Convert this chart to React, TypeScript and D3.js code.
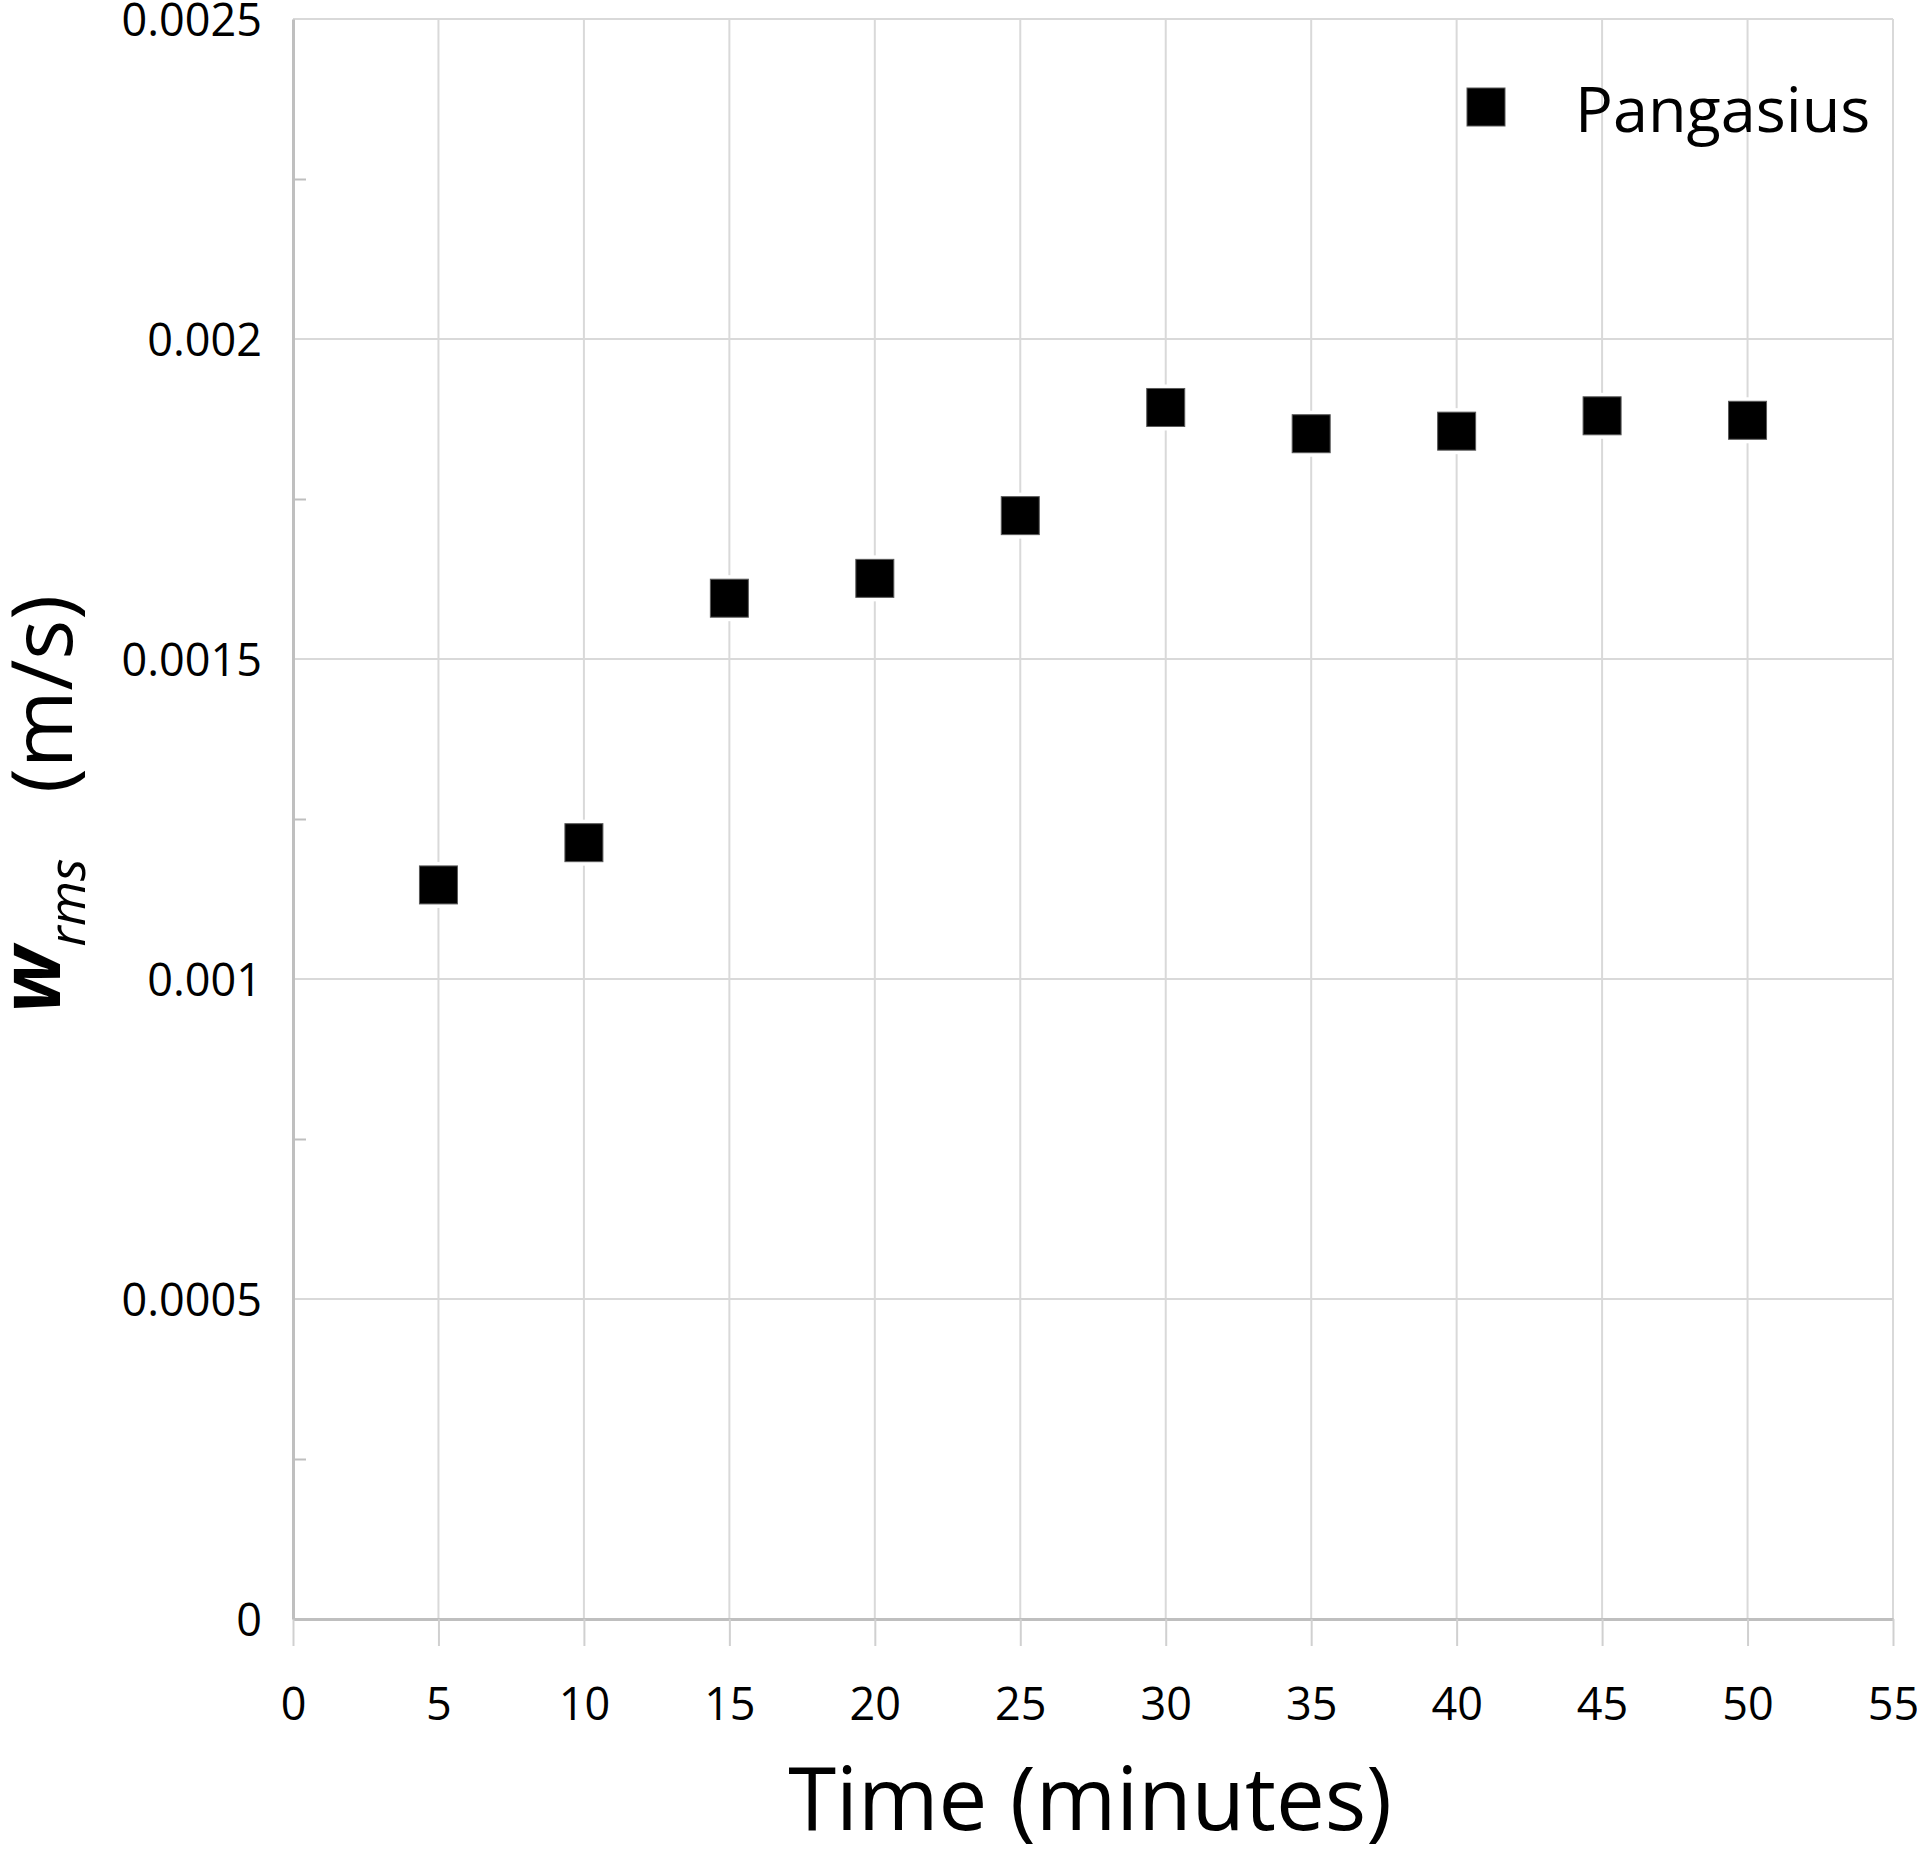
import React, { useEffect, useRef } from 'react';
import * as d3 from 'd3';

// values
const timeMinutes = [5, 10, 15, 20, 25, 30, 35, 40, 45, 50];
const wRms = [0.001147, 0.001213, 0.001595, 0.001626, 0.001724, 0.001893, 0.001852, 0.001856, 0.00188, 0.001873];
const seriesName = 'Pangasius';

const xTicks = [0, 5, 10, 15, 20, 25, 30, 35, 40, 45, 50, 55];
const yTicks = [0, 0.0005, 0.001, 0.0015, 0.002, 0.0025];
const yTickLabels = ['0', '0.0005', '0.001', '0.0015', '0.002', '0.0025'];
const yMinorTicks = [0.00025, 0.00075, 0.00125, 0.00175, 0.00225];

const WIDTH = 1917;
const HEIGHT = 1850;
const FONT = "'Open Sans', 'Noto Sans', sans-serif";

export default function App() {
  const svgRef = useRef<SVGSVGElement | null>(null);

  useEffect(() => {
    if (!svgRef.current) return;
    const plot = { left: 293, right: 1893, top: 19, bottom: 1619 };

    const svg = d3.select(svgRef.current);
    svg.selectAll('*').remove();
    svg.attr('viewBox', `0 0 ${WIDTH} ${HEIGHT}`).attr('width', WIDTH).attr('height', HEIGHT);

    svg.append('rect').attr('width', WIDTH).attr('height', HEIGHT).attr('fill', '#ffffff');

    const x = d3.scaleLinear().domain([0, 55]).range([plot.left, plot.right]);
    const y = d3.scaleLinear().domain([0, 0.0025]).range([plot.bottom, plot.top]);

    // Grid lines
    svg
      .append('g')
      .selectAll('line')
      .data(xTicks.filter((d) => d > 0))
      .enter()
      .append('line')
      .attr('x1', (d) => x(d))
      .attr('x2', (d) => x(d))
      .attr('y1', plot.top)
      .attr('y2', plot.bottom)
      .attr('stroke', '#d9d9d9')
      .attr('stroke-width', 2);

    svg
      .append('g')
      .selectAll('line')
      .data(yTicks.filter((d) => d > 0))
      .enter()
      .append('line')
      .attr('x1', plot.left)
      .attr('x2', plot.right)
      .attr('y1', (d) => y(d))
      .attr('y2', (d) => y(d))
      .attr('stroke', '#d9d9d9')
      .attr('stroke-width', 2);

    // X axis
    const xAxis = svg
      .append('g')
      .attr('transform', `translate(0,${plot.bottom})`)
      .call(d3.axisBottom(x).tickValues(xTicks).tickSize(27).tickSizeOuter(0).tickFormat((d) => String(d)));
    xAxis.select('.domain').attr('stroke', '#bfbfbf').attr('stroke-width', 3);
    xAxis.selectAll('.tick line').attr('stroke', '#d0d0d0').attr('stroke-width', 2);
    xAxis
      .selectAll('.tick text')
      .attr('y', 101)
      .attr('dy', 0)
      .attr('fill', '#000000')
      .attr('font-size', 45)
      .attr('font-family', FONT);

    // Y axis
    const yAxis = svg
      .append('g')
      .attr('transform', `translate(${plot.left},0)`)
      .call(
        d3
          .axisLeft(y)
          .tickValues(yTicks)
          .tickSize(0)
          .tickPadding(31)
          .tickFormat((_, i) => yTickLabels[i])
      );
    yAxis.select('.domain').attr('stroke', '#bfbfbf').attr('stroke-width', 3);
    yAxis
      .selectAll('.tick text')
      .attr('dy', 16)
      .attr('fill', '#000000')
      .attr('font-size', 45)
      .attr('font-family', FONT);

    // Minor ticks (inside)
    const yMinor = svg
      .append('g')
      .attr('transform', `translate(${plot.left},0)`)
      .call(d3.axisRight(y).tickValues(yMinorTicks).tickSize(13).tickSizeOuter(0).tickFormat(() => ''));
    yMinor.select('.domain').remove();
    yMinor.selectAll('.tick line').attr('stroke', '#bfbfbf').attr('stroke-width', 2);

    // Markers
    const markerSize = 38;
    const points = timeMinutes.map((t, i) => ({ t, v: wRms[i] }));
    const marks = svg
      .append('g')
      .selectAll('g')
      .data(points)
      .enter()
      .append('g')
      .attr('transform', (d) => `translate(${x(d.t)},${y(d.v)})`);
    marks
      .append('rect')
      .attr('x', -markerSize / 2 - 4)
      .attr('y', -markerSize / 2 - 4)
      .attr('width', markerSize + 8)
      .attr('height', markerSize + 8)
      .attr('fill', '#ffffff');
    marks
      .append('rect')
      .attr('x', -markerSize / 2)
      .attr('y', -markerSize / 2)
      .attr('width', markerSize)
      .attr('height', markerSize)
      .attr('fill', '#000000')
      .attr('stroke', '#595959')
      .attr('stroke-width', 1);

    // Legend
    const legend = svg.append('g').attr('transform', 'translate(1486,107)');
    legend
      .append('rect')
      .attr('x', -markerSize / 2)
      .attr('y', -markerSize / 2)
      .attr('width', markerSize)
      .attr('height', markerSize)
      .attr('fill', '#000000')
      .attr('stroke', '#595959')
      .attr('stroke-width', 1);
    legend
      .append('text')
      .attr('x', 89)
      .attr('y', 25)
      .attr('font-size', 63)
      .attr('font-family', FONT)
      .attr('fill', '#000000')
      .text(seriesName);

    // Axis titles
    svg
      .append('text')
      .attr('x', (plot.left + plot.right) / 2 - 3)
      .attr('y', 1830)
      .attr('text-anchor', 'middle')
      .attr('font-size', 87)
      .attr('font-family', FONT)
      .attr('fill', '#000000')
      .text('Time (minutes)');

    const yTitle = svg
      .append('text')
      .attr('transform', 'rotate(-90)')
      .attr('font-family', FONT)
      .attr('fill', '#000000');
    yTitle
      .append('tspan')
      .attr('x', -1013)
      .attr('y', 60)
      .attr('font-size', 84)
      .attr('font-style', 'italic')
      .attr('font-weight', 'bold')
      .text('w');
    yTitle
      .append('tspan')
      .attr('y', 85)
      .attr('font-size', 52)
      .attr('font-style', 'italic')
      .text('rms');
    yTitle
      .append('tspan')
      .attr('x', -793)
      .attr('y', 72)
      .attr('font-size', 84)
      .text('(m/s)');
  }, []);

  return (
    <div style={{ position: 'absolute', left: 0, top: 0 }}>
      <svg ref={svgRef} />
    </div>
  );
}
